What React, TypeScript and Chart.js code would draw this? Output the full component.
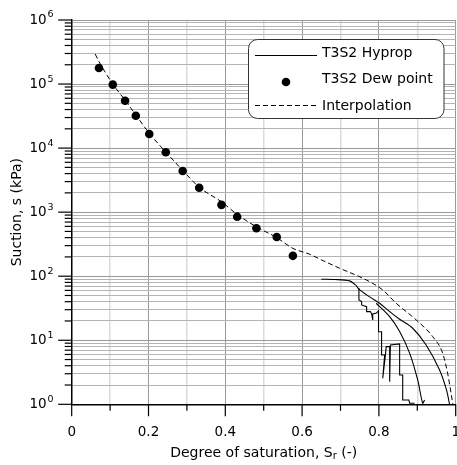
import React, { useEffect, useRef } from "react";
import { Chart, registerables } from "chart.js";

Chart.register(...registerables);

// ---------- data ----------
const dewS = [0.071, 0.107, 0.139, 0.167, 0.202, 0.245, 0.289, 0.332, 0.39, 0.431, 0.481, 0.534, 0.576];
const dewSuction = [178000, 98000, 55000, 32000, 16600, 8600, 4400, 2400, 1300, 850, 560, 410, 208];

const interpS = [0.061, 0.071, 0.107, 0.139, 0.167, 0.202, 0.245, 0.289, 0.332, 0.39, 0.431, 0.481, 0.534, 0.576, 0.62, 0.65, 0.698, 0.767, 0.81, 0.845, 0.897, 0.94, 0.966, 0.979, 0.988, 0.9925];
const interpSuction = [295000, 225000, 100000, 56000, 33000, 17000, 8700, 4500, 2450, 1450, 920, 590, 400, 272, 220, 180, 133, 87.5, 61, 37.8, 20.8, 11.4, 6.3, 3.05, 1.48, 1.0];

const hypropA_S = [0.65, 0.685, 0.724, 0.739, 0.75, 0.776, 0.802, 0.828, 0.854, 0.888, 0.923, 0.958, 0.976, 0.984];
const hypropA_s = [89.8, 89, 84.5, 73, 61, 47.5, 37.8, 28, 21.3, 15.4, 8.45, 3.44, 1.68, 1.0];

const hypropB_S = [0.793, 0.828, 0.854, 0.88, 0.901, 0.914, 0.919];
const hypropB_s = [37.8, 23.4, 13.7, 6.3, 2.4, 1.04, 1.17];

const hypropC_S = [0.748, 0.748, 0.755, 0.755, 0.768, 0.768, 0.778, 0.781, 0.784, 0.784, 0.794, 0.799, 0.799, 0.807, 0.807, 0.815, 0.81, 0.817, 0.819, 0.828, 0.828, 0.83, 0.854, 0.854, 0.862, 0.862, 0.878, 0.88, 0.893];
const hypropC_s = [64.9, 42.6, 40.1, 35.6, 33.5, 28.0, 28.0, 25.8, 20.7, 25.8, 26.7, 28.7, 13.6, 13.6, 5.9, 5.9, 2.55, 5.9, 7.94, 7.94, 2.25, 8.45, 8.75, 2.87, 2.87, 1.17, 1.17, 1.04, 1.04];

const seriesLabels = ["T3S2 Hyprop", "T3S2 Dew point", "Interpolation"];

const xTickValues = [0, 0.1, 0.2, 0.3, 0.4, 0.5, 0.6, 0.7, 0.8, 0.9, 1.0];
const xLabelValues = [0, 0.2, 0.4, 0.6, 0.8, 1.0];
const xTickLabels = ["0", "0.2", "0.4", "0.6", "0.8", "1"];
const yDecadeExps = [0, 1, 2, 3, 4, 5, 6];
const yMinorMultipliers = [2, 3, 4, 5, 6, 7, 8, 9];

const xTitleMain = "Degree of saturation, S";
const xTitleSub = "r";
const xTitleEnd = " (-)";
const yTitle = "Suction, s (kPa)";

// ---------- helpers ----------
const pts = (xs: number[], ys: number[]) => xs.map((x, i) => ({ x, y: ys[i] }));
const FONT = '"DejaVu Sans", Verdana, sans-serif';
const CANVAS_W = 460;
const CANVAS_H = 465;

const yGridValues: number[] = [];
yDecadeExps.forEach((e) => {
  const base = Math.pow(10, e);
  yGridValues.push(base);
  if (e < 6) yMinorMultipliers.forEach((m) => yGridValues.push(m * base));
});
const isDecade = (v: number) => Math.abs(Math.log10(v) - Math.round(Math.log10(v))) < 1e-9;
const isMajorX = (v: number) => Math.abs(v * 5 - Math.round(v * 5)) < 1e-9;

const decorPlugin = {
  id: "decor",
  afterDraw(chart: any) {
    const ctx = chart.ctx as CanvasRenderingContext2D;
    const xs = chart.scales.x;
    const ys = chart.scales.y;
    const area = chart.chartArea;
    ctx.save();
    ctx.strokeStyle = "#000";
    ctx.fillStyle = "#000";
    ctx.lineWidth = 1.2;

    yGridValues.forEach((v) => {
      const y = ys.getPixelForValue(v);
      const len = isDecade(v) ? 13.5 : 7;
      ctx.beginPath();
      ctx.moveTo(area.left - len, y);
      ctx.lineTo(area.left, y);
      ctx.stroke();
    });
    xTickValues.forEach((v) => {
      const x = xs.getPixelForValue(v);
      const len = isMajorX(v) ? 12 : 6.5;
      ctx.beginPath();
      ctx.moveTo(x, area.bottom);
      ctx.lineTo(x, area.bottom + len);
      ctx.stroke();
    });

    yDecadeExps.forEach((e) => {
      const y = ys.getPixelForValue(Math.pow(10, e));
      ctx.font = `13.5px ${FONT}`;
      ctx.textAlign = "right";
      ctx.textBaseline = "middle";
      ctx.fillText("10", area.left - 25, y + 0.5);
      ctx.font = `9.5px ${FONT}`;
      ctx.textAlign = "left";
      ctx.fillText(String(e), area.left - 24.2, y - 5);
    });

    ctx.font = `13.5px ${FONT}`;
    ctx.textAlign = "center";
    ctx.textBaseline = "alphabetic";
    xLabelValues.forEach((v, i) => {
      ctx.fillText(xTickLabels[i], xs.getPixelForValue(v), 435.5);
    });

    ctx.font = `14px ${FONT}`;
    const w1 = ctx.measureText(xTitleMain).width;
    const w3 = ctx.measureText(xTitleEnd).width;
    ctx.font = `10px ${FONT}`;
    const w2 = ctx.measureText(xTitleSub).width;
    const cx = (area.left + area.right) / 2;
    let sx = cx - (w1 + w2 + w3) / 2;
    const by = 457;
    ctx.textAlign = "left";
    ctx.font = `14px ${FONT}`;
    ctx.fillText(xTitleMain, sx, by);
    sx += w1;
    ctx.font = `10px ${FONT}`;
    ctx.fillText(xTitleSub, sx, by + 1.5);
    sx += w2;
    ctx.font = `14px ${FONT}`;
    ctx.fillText(xTitleEnd, sx, by);

    ctx.save();
    ctx.translate(17, (area.top + area.bottom) / 2);
    ctx.rotate(-Math.PI / 2);
    ctx.textAlign = "center";
    ctx.textBaseline = "middle";
    ctx.font = `14px ${FONT}`;
    ctx.fillText(yTitle, 0, 0);
    ctx.restore();

    const bx = 248.5, byTop = 39.5, bw = 195.5, bh = 79;
    ctx.beginPath();
    (ctx as any).roundRect(bx, byTop, bw, bh, 9);
    ctx.fillStyle = "#fff";
    ctx.fill();
    ctx.strokeStyle = "#333";
    ctx.lineWidth = 1;
    ctx.stroke();

    ctx.strokeStyle = "#000";
    ctx.fillStyle = "#000";
    ctx.lineWidth = 1.1;
    ctx.beginPath();
    ctx.moveTo(255, 55.5);
    ctx.lineTo(317, 55.5);
    ctx.stroke();
    ctx.beginPath();
    ctx.arc(286, 82, 4.3, 0, Math.PI * 2);
    ctx.fill();
    ctx.setLineDash([5, 3]);
    ctx.beginPath();
    ctx.moveTo(255, 105.5);
    ctx.lineTo(317, 105.5);
    ctx.stroke();
    ctx.setLineDash([]);

    ctx.font = `14px ${FONT}`;
    ctx.textAlign = "left";
    ctx.textBaseline = "alphabetic";
    ctx.fillText(seriesLabels[0], 322, 57);
    ctx.fillText(seriesLabels[1], 322, 83);
    ctx.fillText(seriesLabels[2], 322, 110);

    ctx.restore();
  },
};

export default function App() {
  const ref = useRef<HTMLCanvasElement | null>(null);

  useEffect(() => {
    if (!ref.current) return;
    const chart = new Chart(ref.current, {
      type: "scatter",
      data: {
        datasets: [
          { label: seriesLabels[0], data: pts(hypropA_S, hypropA_s), showLine: true, borderColor: "#000", borderWidth: 1.1, pointRadius: 0, tension: 0.3 },
          { label: "", data: pts(hypropB_S, hypropB_s), showLine: true, borderColor: "#000", borderWidth: 1.1, pointRadius: 0, tension: 0.3 },
          { label: "", data: pts(hypropC_S, hypropC_s), showLine: true, borderColor: "#000", borderWidth: 1.1, pointRadius: 0, tension: 0 },
          { label: seriesLabels[2], data: pts(interpS, interpSuction), showLine: true, borderColor: "#000", borderWidth: 1, borderDash: [5, 3], pointRadius: 0, cubicInterpolationMode: "monotone" },
          { label: seriesLabels[1], data: pts(dewS, dewSuction), showLine: false, pointRadius: 4.3, pointBackgroundColor: "#000", pointBorderWidth: 0, backgroundColor: "#000" },
        ],
      } as any,
      options: {
        animation: false,
        responsive: false,
        devicePixelRatio: 1,
        events: [],
        layout: { padding: { left: 0, top: 20, right: 1.3, bottom: 0 } },
        plugins: { legend: { display: false }, tooltip: { enabled: false } },
        scales: {
          x: {
            type: "linear",
            min: 0,
            max: 1,
            afterBuildTicks: (s: any) => {
              s.ticks = xTickValues.map((v) => ({ value: v, major: isMajorX(v) }));
            },
            afterFit: (s: any) => {
              s.height = 60.7;
              s.paddingLeft = 0;
              s.paddingRight = 0;
            },
            ticks: { display: false, autoSkip: false },
            grid: {
              drawTicks: false,
              color: (c: any) => (isMajorX(c.tick.value) ? "#9a9a9a" : "#dcdcdc"),
              lineWidth: (c: any) => (isMajorX(c.tick.value) ? 1 : 1.5),
            },
            border: { display: true, color: "#000", width: 1.5 },
          },
          y: {
            type: "logarithmic",
            min: 1,
            max: 1000000,
            afterBuildTicks: (s: any) => {
              s.ticks = yGridValues.map((v) => ({ value: v, major: isDecade(v) }));
            },
            afterFit: (s: any) => {
              s.width = 71.7;
              s.paddingTop = 0;
              s.paddingBottom = 0;
            },
            ticks: { display: false, autoSkip: false },
            grid: {
              drawTicks: false,
              color: (c: any) => (isDecade(c.tick.value) ? "#999999" : "#b4b4b4"),
              lineWidth: 1,
            },
            border: { display: true, color: "#000", width: 1.5 },
          },
        },
      } as any,
      plugins: [decorPlugin],
    });
    return () => chart.destroy();
  }, []);

  return (
    <div style={{ position: "absolute", left: 0, top: 0, width: 457, height: 465, overflow: "hidden", background: "#fff" }}>
      <canvas ref={ref} width={CANVAS_W} height={CANVAS_H} style={{ width: CANVAS_W, height: CANVAS_H, display: "block" }} />
    </div>
  );
}
